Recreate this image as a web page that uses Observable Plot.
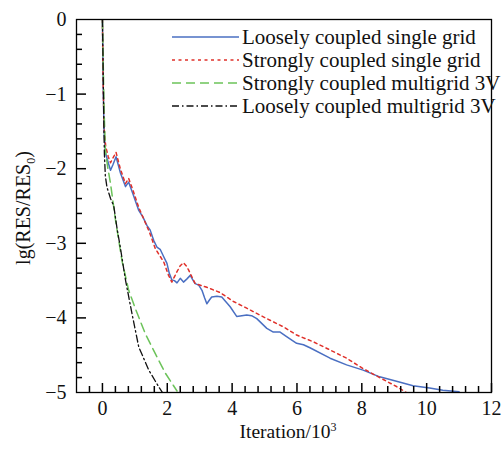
<!DOCTYPE html>
<html><head><meta charset="utf-8">
<script src="https://cdn.jsdelivr.net/npm/d3@7"></script>
<script src="https://cdn.jsdelivr.net/npm/@observablehq/plot@0.6"></script>
<style>
html,body{margin:0;padding:0;background:#fff;}
#chart{width:502px;height:449px;}
</style></head>
<body><div id="chart"></div>
<script>
const seriesNames = ["Loosely coupled single grid","Strongly coupled single grid","Strongly coupled multigrid 3V","Loosely coupled multigrid 3V"];
const looseSingle = [[0,0],[0.02,-0.8],[0.05,-1.5],[0.1,-1.8],[0.2,-1.95],[0.25,-2.02],[0.32,-1.95],[0.42,-1.84],[0.55,-2.05],[0.71,-2.24],[0.81,-2.18],[0.95,-2.35],[1.12,-2.56],[1.25,-2.65],[1.37,-2.76],[1.47,-2.82],[1.58,-2.96],[1.68,-3.05],[1.78,-3.08],[1.89,-3.18],[1.99,-3.27],[2.06,-3.4],[2.14,-3.49],[2.22,-3.5],[2.30,-3.53],[2.40,-3.47],[2.50,-3.52],[2.60,-3.48],[2.71,-3.43],[2.80,-3.5],[2.86,-3.54],[2.97,-3.56],[3.07,-3.63],[3.15,-3.73],[3.22,-3.81],[3.30,-3.76],[3.37,-3.72],[3.53,-3.71],[3.68,-3.72],[3.8,-3.78],[3.94,-3.85],[4.14,-3.98],[4.3,-3.97],[4.45,-3.96],[4.6,-3.97],[4.76,-4.01],[5.07,-4.14],[5.27,-4.19],[5.48,-4.19],[5.68,-4.25],[5.99,-4.34],[6.2,-4.36],[6.40,-4.40],[7.02,-4.54],[7.53,-4.63],[8.04,-4.70],[8.55,-4.79],[9.07,-4.85],[9.58,-4.91],[10.09,-4.94],[10.5,-4.97],[11.0,-4.99]];
const strongSingle = [[0,0],[0.02,-0.8],[0.05,-1.44],[0.1,-1.7],[0.18,-1.84],[0.25,-1.92],[0.32,-1.86],[0.42,-1.78],[0.55,-2.0],[0.71,-2.2],[0.81,-2.13],[0.95,-2.3],[1.12,-2.52],[1.27,-2.67],[1.45,-2.85],[1.63,-3.07],[1.89,-3.25],[2.04,-3.43],[2.14,-3.52],[2.22,-3.45],[2.30,-3.38],[2.40,-3.3],[2.50,-3.26],[2.58,-3.3],[2.66,-3.36],[2.86,-3.54],[3.22,-3.59],[3.63,-3.66],[4.04,-3.78],[4.45,-3.87],[5.07,-4.01],[5.58,-4.12],[5.99,-4.23],[6.50,-4.32],[7.02,-4.43],[7.53,-4.54],[8.04,-4.68],[8.55,-4.80],[9.07,-4.92],[9.37,-5.0]];
const strongMulti = [[0,0],[0.02,-0.5],[0.05,-1.2],[0.09,-1.75],[0.17,-2.0],[0.25,-2.2],[0.4,-2.68],[0.55,-3.09],[0.61,-3.25],[0.81,-3.63],[1.02,-3.88],[1.32,-4.21],[1.63,-4.48],[1.94,-4.74],[2.30,-4.98]];
const looseMulti = [[0,0],[0.02,-0.6],[0.04,-1.3],[0.06,-1.8],[0.09,-2.1],[0.14,-2.25],[0.25,-2.4],[0.35,-2.5],[0.45,-2.8],[0.55,-3.05],[0.71,-3.49],[0.91,-3.94],[1.12,-4.39],[1.43,-4.70],[1.73,-4.92],[1.85,-5.0]];
const xMajorTicks = [0,2,4,6,8,10,12];
const yMajorTicks = [0,-1,-2,-3,-4,-5];
const xMinorTicks = d3.range(-1,31).map(i => +(i*0.4).toFixed(2)).filter(v => v > -0.8 && v < 12 && !xMajorTicks.includes(v));
const yMinorTicks = d3.range(0,26).map(i => +(-i*0.2).toFixed(2)).filter(v => !yMajorTicks.includes(v));

const styles = [
  {stroke:"#4a6fc2", dash:null, w:1.5},
  {stroke:"#e0302a", dash:"3,3.5", w:1.5},
  {stroke:"#6cc35a", dash:"9,5", w:1.5},
  {stroke:"#111111", dash:"7,3,1.5,3", w:1.3}
];
const allSeries = [looseSingle, strongSingle, strongMulti, looseMulti];

const W = 502, H = 449, mL = 76, mR = 11, mT = 19, mB = 57;
const pw = W - mL - mR, ph = H - mT - mB;
const font = "'Liberation Serif','Times New Roman',serif";
const chart = Plot.plot({
  width: W, height: H,
  marginLeft: mL, marginRight: mR, marginTop: mT, marginBottom: mB,
  style: {fontFamily: font, fontSize: "20px", background: "#fff", color: "#111"},
  x: {domain: [-0.8, 12]},
  y: {domain: [-5, 0]},
  marks: [
    Plot.axisX({ticks: xMajorTicks, tickSize: 0, tickPadding: 8, label: null, tickFormat: d => d, fontSize: 20}),
    Plot.axisY({ticks: yMajorTicks, tickSize: 0, tickPadding: 10, label: null, tickFormat: d => d < 0 ? "\u2212" + Math.abs(d) : d, fontSize: 20}),
    ...allSeries.map((s, i) => Plot.line(s, {x: d => d[0], y: d => d[1], stroke: styles[i].stroke, strokeWidth: styles[i].w, strokeDasharray: styles[i].dash, clip: true})),
    Plot.ruleX(xMajorTicks, {x: d => d, y1: -5, y2: -5 + 5 * 9 / ph, stroke: "#000", strokeWidth: 1.5}),
    Plot.ruleX(xMinorTicks, {x: d => d, y1: -5, y2: -5 + 5 * 6 / ph, stroke: "#000", strokeWidth: 1.5}),
    Plot.ruleY(yMajorTicks.filter(v => v > -5 && v < 0), {y: d => d, x1: -0.8, x2: -0.8 + 12.8 * 10 / pw, stroke: "#000", strokeWidth: 1.5}),
    Plot.ruleY(yMinorTicks, {y: d => d, x1: -0.8, x2: -0.8 + 12.8 * 6 / pw, stroke: "#000", strokeWidth: 1.5}),
    Plot.frame({stroke: "#000", strokeWidth: 1.3})
  ]
});
document.getElementById("chart").appendChild(chart);

const svg = d3.select(chart);
// axis titles
svg.append("text").attr("x", 288).attr("y", 438).attr("text-anchor", "middle")
  .style("font-family", font).style("font-size", "19.5px").attr("fill", "#111")
  .call(t => { t.append("tspan").text("Iteration/10"); t.append("tspan").text("3").attr("dy", -7).style("font-size", "12px"); });
svg.append("text").attr("transform", "translate(30,208) rotate(-90)").attr("text-anchor", "middle")
  .style("font-family", font).style("font-size", "20px").attr("fill", "#111")
  .call(t => { t.append("tspan").text("lg(RES/RES"); t.append("tspan").text("0").attr("dy", 5).style("font-size", "12px"); t.append("tspan").text(")").attr("dy", -5); });
// legend
const lg = svg.append("g").attr("text-anchor", "start");
seriesNames.forEach((name, i) => {
  const y = 37 + i * 23;
  lg.append("line").attr("x1", 172).attr("x2", 239).attr("y1", y).attr("y2", y)
    .attr("stroke", styles[i].stroke).attr("stroke-width", styles[i].w)
    .attr("stroke-dasharray", styles[i].dash);
  lg.append("text").attr("x", 242).attr("y", y + 6.5).attr("text-anchor", "start").text(name)
    .style("font-family", font).style("font-size", "21px").attr("fill", "#111");
});
</script>
</body></html>
